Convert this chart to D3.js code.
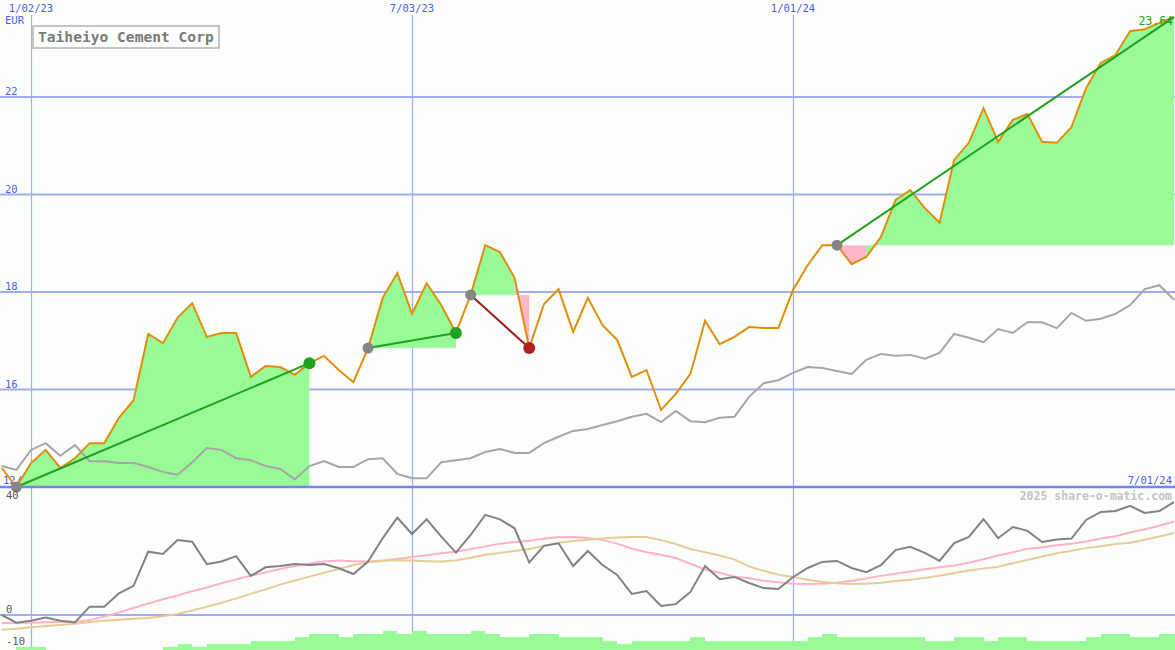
<!DOCTYPE html>
<html>
<head>
<meta charset="utf-8">
<script src="https://cdn.jsdelivr.net/npm/d3@7"></script>
<style>
  html,body{margin:0;padding:0;background:#fcfefc;}
  svg{display:block;}
  text{font-family:"DejaVu Sans Mono",monospace;}
</style>
</head>
<body>
<svg id="chart" width="1175" height="650"></svg>
<script>
// ---------------- DATA ----------------
const title = "Taiheiyo Cement Corp";
const currency = "EUR";
const firstWeek = "2022-12-19";          // weekly (Monday) observations, 81 weeks
const topDateTicks = ["2023-01-02", "2023-07-03", "2024-01-01"];
const topDateLabels = ["1/02/23", "7/03/23", "1/01/24"];
const bottomLeftLabel = "12/19/22";
const bottomRightLabel = "7/01/24";
const priceTicks = [16, 18, 20, 22];
const oscTicks = [40, 0, -10];
const lastPriceLabel = "23.64";
const watermark = "2025 share-o-matic.com";

// share price (EUR)
const price = [14.39, 14.00, 14.49, 14.76, 14.39, 14.59, 14.90, 14.90, 15.42, 15.78,
  17.14, 16.95, 17.47, 17.77, 17.08, 17.16, 17.16, 16.26, 16.48, 16.46,
  16.30, 16.54, 16.69, 16.40, 16.15, 16.85, 17.88, 18.39, 17.55, 18.18,
  17.73, 17.16, 17.94, 18.96, 18.82, 18.29, 16.85, 17.75, 18.06, 17.18,
  17.88, 17.32, 17.02, 16.26, 16.40, 15.58, 15.91, 16.32, 17.41, 16.93,
  17.08, 17.28, 17.26, 17.26, 18.04, 18.55, 18.96, 18.96, 18.57, 18.72,
  19.13, 19.89, 20.09, 19.72, 19.42, 20.71, 21.06, 21.77, 21.08, 21.53,
  21.65, 21.08, 21.06, 21.38, 22.18, 22.70, 22.86, 23.35, 23.39, 23.52, 23.64];

// comparison index (rebased to the share price)
const compare = [14.43, 14.35, 14.76, 14.90, 14.64, 14.86, 14.53, 14.53, 14.49, 14.49,
  14.41, 14.31, 14.25, 14.51, 14.80, 14.76, 14.59, 14.55, 14.43, 14.37,
  14.16, 14.43, 14.53, 14.41, 14.41, 14.57, 14.59, 14.27, 14.18, 14.18,
  14.51, 14.55, 14.59, 14.72, 14.78, 14.70, 14.70, 14.90, 15.03, 15.15,
  15.19, 15.27, 15.35, 15.44, 15.50, 15.33, 15.56, 15.35, 15.33, 15.42,
  15.44, 15.85, 16.13, 16.19, 16.34, 16.46, 16.44, 16.38, 16.32, 16.61,
  16.73, 16.69, 16.71, 16.63, 16.75, 17.14, 17.06, 16.97, 17.24, 17.16,
  17.38, 17.38, 17.26, 17.57, 17.41, 17.45, 17.55, 17.73, 18.06, 18.14, 17.84];

// lower panel: momentum (%) and its two moving averages
const momentum = [0.0, -2.4, -1.8, -0.8, -1.8, -2.3, 2.6, 2.6, 6.8, 9.1,
  19.8, 19.1, 23.4, 22.9, 15.9, 16.7, 18.4, 12.2, 14.9, 15.3,
  15.9, 15.6, 15.9, 14.6, 12.8, 16.7, 24.0, 30.4, 25.3, 29.9,
  24.5, 19.5, 25.0, 31.3, 29.9, 27.1, 16.4, 21.6, 22.4, 15.3,
  20.0, 15.6, 12.5, 6.6, 7.5, 2.8, 3.4, 7.2, 15.3, 11.2,
  11.9, 10.0, 8.4, 8.1, 11.8, 14.7, 16.6, 16.9, 14.7, 13.4,
  15.6, 20.3, 21.3, 19.4, 16.9, 22.5, 24.4, 30.0, 24.0, 27.5,
  26.3, 22.8, 23.6, 23.9, 29.7, 32.2, 32.5, 34.1, 31.9, 32.5, 35.3];

const maFast = [-2.5, -2.5, -2.4, -2.3, -2.2, -2.1, -1.6, -0.5, 0.8, 2.2,
  3.6, 4.9, 6.1, 7.4, 8.6, 9.9, 11.1, 12.3, 13.3, 14.4,
  15.3, 16.1, 16.7, 17.0, 16.8, 16.7, 17.0, 17.5, 18.1, 18.7,
  19.3, 19.8, 20.6, 21.4, 22.3, 22.8, 23.2, 23.8, 24.3, 24.4,
  24.1, 23.4, 22.3, 20.8, 19.6, 18.8, 17.8, 16.0, 14.2, 13.2,
  12.0, 11.5, 10.7, 10.2, 9.8, 9.7, 9.8, 10.1, 10.7, 11.4,
  12.3, 12.9, 13.6, 14.3, 14.9, 15.5, 16.3, 17.4, 18.6, 19.6,
  20.7, 21.2, 21.8, 22.3, 23.0, 23.9, 24.6, 25.8, 26.8, 27.9, 29.2];

const maSlow = [-4.6, -4.3, -3.8, -3.4, -3.1, -2.7, -2.2, -1.8, -1.5, -1.2,
  -0.9, -0.4, 0.3, 1.4, 2.6, 3.8, 5.2, 6.6, 8.0, 9.5,
  10.8, 12.0, 13.2, 14.4, 15.6, 16.5, 16.9, 17.1, 17.0, 16.8,
  16.7, 17.0, 17.9, 18.8, 19.4, 20.0, 20.6, 21.6, 22.6, 23.1,
  23.5, 23.9, 24.2, 24.4, 24.4, 23.4, 22.2, 20.6, 19.6, 18.6,
  17.4, 15.2, 13.8, 12.6, 11.9, 11.0, 10.3, 9.9, 9.7, 9.8,
  10.1, 10.6, 11.0, 11.6, 12.3, 13.1, 13.9, 14.5, 15.1, 16.2,
  17.2, 18.3, 19.3, 20.1, 20.9, 21.5, 22.2, 22.6, 23.5, 24.5, 25.6];

// weekly volume (relative units)
const volume = [0, 1, 1, 0, 0, 0, 0, 0, 0, 0,
  0, 1, 2, 1, 2, 2, 2, 3, 3, 3,
  4, 5, 5, 4, 5, 5, 6, 5, 6, 5,
  5, 5, 6, 5, 4, 4, 5, 5, 4, 4,
  4, 3, 2, 3, 3, 3, 3, 4, 3, 3,
  3, 3, 3, 3, 3, 4, 5, 4, 4, 4,
  4, 4, 4, 3, 3, 4, 4, 3, 4, 4,
  3, 3, 3, 3, 4, 5, 5, 4, 4, 5, 5];

// trend annotations: start week index, end week index
const trendStart = [1, 25, 32, 57];
const trendEnd   = [21, 31, 36, 80];

// ---------------- CHART ----------------
const W = 1175, H = 650;
const svg = d3.select("#chart");
const parse = d3.utcParse("%Y-%m-%d");
const start = parse(firstWeek);
const dates = price.map((_, i) => d3.utcDay.offset(start, 7 * i));

const x = d3.scaleUtc()
  .domain([parse("2023-01-02"), parse("2024-07-01")])
  .range([31, 1174]);
const yP = d3.scaleLinear().domain([14, 22]).range([487, 97]);
const yL = d3.scaleLinear().domain([-10, 40]).range([647, 487]);
const yV = d3.scaleLinear().domain([0, 6]).range([650, 631]);

const gridCol = "#a2acf2", axisCol = "#7886ea", labelBlue = "#4c5cf0";
const FS = 10.5;

svg.append("rect").attr("width", W).attr("height", H).attr("fill", "#fcfefc");

// vertical grid lines
const vTicks = topDateTicks.map(parse);
svg.append("g").selectAll("line").data(vTicks).join("line")
  .attr("x1", d => Math.round(x(d)) + 0.5).attr("x2", d => Math.round(x(d)) + 0.5)
  .attr("y1", 15).attr("y2", H)
  .attr("stroke", gridCol).attr("stroke-width", 1.2);

// horizontal grid lines (price)
svg.append("g").selectAll("line").data(priceTicks).join("line")
  .attr("x1", 0).attr("x2", W)
  .attr("y1", d => yP(d)).attr("y2", d => yP(d))
  .attr("stroke", gridCol).attr("stroke-width", 2);

// lower panel zero line
svg.append("line").attr("x1", 0).attr("x2", W)
  .attr("y1", yL(0)).attr("y2", yL(0))
  .attr("stroke", gridCol).attr("stroke-width", 2);

// top date labels
svg.append("g").selectAll("text").data(vTicks).join("text")
  .attr("x", d => x(d)).attr("y", 12)
  .attr("text-anchor", "middle").attr("font-size", FS).attr("fill", labelBlue)
  .text((d, i) => topDateLabels[i]);

svg.append("text").attr("x", 5).attr("y", 24).attr("font-size", FS)
  .attr("fill", labelBlue).text(currency);

// price labels
svg.append("g").selectAll("text").data(priceTicks).join("text")
  .attr("x", 5).attr("y", d => yP(d) - 2)
  .attr("font-size", FS).attr("fill", labelBlue).text(d => d);

// bottom date labels of main panel
svg.append("text").attr("x", 3).attr("y", yP(14) - 3).attr("font-size", FS)
  .attr("fill", labelBlue).text(bottomLeftLabel);
svg.append("text").attr("x", 1172).attr("y", yP(14) - 3).attr("font-size", FS)
  .attr("text-anchor", "end").attr("fill", labelBlue).text(bottomRightLabel);

// trend fills: segments coloured by whether they end above or below the start level;
// consecutive segments of the same colour are merged into one area
const fillG = svg.append("g");
trendStart.forEach((s, k) => {
  const e = trendEnd[k];
  const base = price[s];
  const area = d3.area()
    .x(j => x(dates[j]))
    .y0(yP(base))
    .y1(j => yP(price[j]));
  let runStart = s;
  for (let i = s; i < e; i++) {
    const up = price[i + 1] >= base;
    const nextUp = i + 1 < e ? price[i + 2] >= base : null;
    if (nextUp !== up) {
      fillG.append("path").attr("d", area(d3.range(runStart, i + 2)))
        .attr("fill", up ? "#98fb98" : "#ffb6c8");
      runStart = i + 1;
    }
  }
});

// main axis line
svg.append("line").attr("x1", 0).attr("x2", W)
  .attr("y1", yP(14)).attr("y2", yP(14))
  .attr("stroke", axisCol).attr("stroke-width", 2.5);

// comparison line
const lineP = d3.line().x((d, i) => x(dates[i])).y(d => yP(d));
svg.append("path").attr("d", lineP(compare))
  .attr("fill", "none").attr("stroke", "#a6a6a6").attr("stroke-width", 2);

// price line
svg.append("path").attr("d", lineP(price))
  .attr("fill", "none").attr("stroke", "#e08e0b").attr("stroke-width", 2);

// trend lines and markers
trendStart.forEach((s, k) => {
  const e = trendEnd[k];
  const up = price[e] >= price[s];
  const col = up ? "#20a020" : "#a01c1c";
  svg.append("line")
    .attr("x1", x(dates[s])).attr("y1", yP(price[s]))
    .attr("x2", x(dates[e])).attr("y2", yP(price[e]))
    .attr("stroke", col).attr("stroke-width", 2);
  svg.append("circle").attr("cx", x(dates[s])).attr("cy", yP(price[s]))
    .attr("r", 5.5).attr("fill", "#858585");
  if (e < price.length - 1) {
    svg.append("circle").attr("cx", x(dates[e])).attr("cy", yP(price[e]))
      .attr("r", 6).attr("fill", up ? "#22a022" : "#b21e1e");
  }
});

// last price label
svg.append("text").attr("x", 1173).attr("y", 25).attr("text-anchor", "end")
  .attr("font-size", 11.5).attr("fill", "#22a022").text(lastPriceLabel);

// title box
const tg = svg.append("g");
const tt = tg.append("text").attr("x", 38).attr("y", 42)
  .attr("font-size", 14.6).attr("font-weight", "bold").attr("fill", "#7a7a7a").text(title);
const bb = tt.node().getBBox();
tg.insert("rect", "text").attr("x", 33).attr("y", 26)
  .attr("width", bb.width + 10).attr("height", 22)
  .attr("fill", "#fcfefc").attr("stroke", "#c4c4c4").attr("stroke-width", 2);

// ---------------- LOWER PANEL ----------------
svg.append("text").attr("x", 1172).attr("y", 500).attr("text-anchor", "end")
  .attr("font-size", 11.5).attr("font-weight", "bold").attr("fill", "#c4c4c4").text(watermark);

svg.append("g").selectAll("text").data(oscTicks).join("text")
  .attr("x", 6).attr("y", d => d === 40 ? yL(d) + 12 : yL(d) - 2)
  .attr("font-size", FS).attr("fill", "#555").text(d => d);

const lineL = d3.line().x((d, i) => x(dates[i])).y(d => yL(d));
svg.append("path").attr("d", lineL(maFast))
  .attr("fill", "none").attr("stroke", "#ffb2c6").attr("stroke-width", 2);
svg.append("path").attr("d", lineL(maSlow))
  .attr("fill", "none").attr("stroke", "#e6cc9a").attr("stroke-width", 2);
svg.append("path").attr("d", lineL(momentum))
  .attr("fill", "none").attr("stroke", "#828282").attr("stroke-width", 2);

// volume bars
svg.append("g").attr("shape-rendering", "crispEdges")
  .selectAll("rect").data(volume).join("rect")
  .attr("x", (d, i) => Math.round(x(dates[i])))
  .attr("width", (d, i) => Math.round(x(d3.utcDay.offset(dates[i], 7))) - Math.round(x(dates[i])))
  .attr("y", d => yV(d))
  .attr("height", d => yV(0) - yV(d))
  .attr("fill", "#98fb98");
</script>
</body>
</html>
